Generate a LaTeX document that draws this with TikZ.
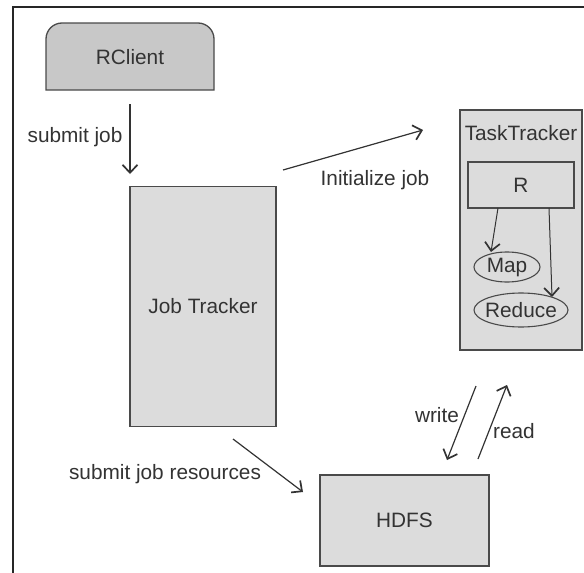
\documentclass[tikz,border=0pt]{standalone}
\usepackage{fontspec}
\setmainfont{Liberation Sans}
\usetikzlibrary{arrows.meta,shapes.geometric}
\definecolor{boxfill}{HTML}{DCDCDC}
\definecolor{clientfill}{HTML}{C8C8C8}
\definecolor{edge}{HTML}{4A4A4A}
\definecolor{txt}{HTML}{333333}
\tikzset{
  box/.style={draw=edge, line width=1.3pt, fill=boxfill, inner sep=0pt},
  oval/.style={ellipse, draw=edge, line width=1.1pt, fill=boxfill, inner sep=0pt},
  lbl/.style={text=txt, font=\fontsize{20.8}{24}\selectfont, inner sep=0pt},
  conn/.style={draw=txt, line width=1.2pt, -{Straight Barb[length=8pt,width=15pt,line width=1.7pt]}},
}
\begin{document}
\begin{tikzpicture}[x=1pt,y=-1pt]
\useasboundingbox (0,0) rectangle (584,573);
\fill[white] (0,0) rectangle (584,573);
% frame (top and left only)
\draw[line width=2pt, black!85] (13,573) -- (13,7) -- (584,7);

% RClient
\draw[draw=edge, line width=1.3pt, fill=clientfill] (46,90) [rounded corners=16pt] -- (46,23) -- (214,23) [sharp corners] -- (214,90) -- cycle;
\node[lbl] (rclient) at (130,57) {RClient};

% Job Tracker
\node[box, minimum width=146pt, minimum height=240pt] (jt) at (203,306.5) {};
\node[lbl] (jtl) at (jt.center) {Job Tracker};

% TaskTracker
\node[box, line width=1.1pt, minimum width=122pt, minimum height=240pt] (tt) at (521,230) {};
\node[lbl] (ttl) at (521,133) {TaskTracker};
\node[box, line width=1.1pt, minimum width=106pt, minimum height=46pt] (r) at (521,185) {};
\node[lbl] (rl) at (r.center) {R};
\node[oval, minimum width=66pt, minimum height=30pt] (map) at (507,267) {};
\node[lbl] (mapl) at (map.center) {Map};
\node[oval, minimum width=94pt, minimum height=34pt] (red) at (521,310) {};
\node[lbl] (redl) at (red.center) {Reduce};

% HDFS
\node[box, minimum width=169pt, minimum height=91pt] (hdfs) at (404.5,520.5) {};
\node[lbl] (hdfsl) at (hdfs.center) {HDFS};

% connector end points
\coordinate (sj1) at (130,104);
\coordinate (sj2) at (130,174);
\coordinate (ij1) at (283,170);
\coordinate (ij2) at (423,130);
\coordinate (sr1) at (233,439);
\coordinate (sr2) at (303,492);
\coordinate (w1) at (476,386);
\coordinate (w2) at (447,460);
\coordinate (rd1) at (478,459);
\coordinate (rd2) at (507,385);
\coordinate (m1) at (498,208);
\coordinate (m2) at (491,252);
\coordinate (q1) at (549,208);
\coordinate (q2) at (552,297);

\draw[conn] (sj1) -- (sj2);
\draw[conn] (ij1) -- (ij2);
\draw[conn] (sr1) -- (sr2);
\draw[conn] (w1) -- (w2);
\draw[conn] (rd1) -- (rd2);
\draw[conn, line width=1pt] (m1) -- (m2);
\draw[conn, line width=1pt] (q1) -- (q2);

% labels
\node[lbl] (l1) at (75,137) {submit job};
\node[lbl] (l2) at (375,180) {Initialize job};
\node[lbl] (l3) at (165,474) {submit job resources};
\node[lbl] (l4) at (437,415) {write};
\node[lbl] (l5) at (514,431) {read};
\end{tikzpicture}
\end{document}
